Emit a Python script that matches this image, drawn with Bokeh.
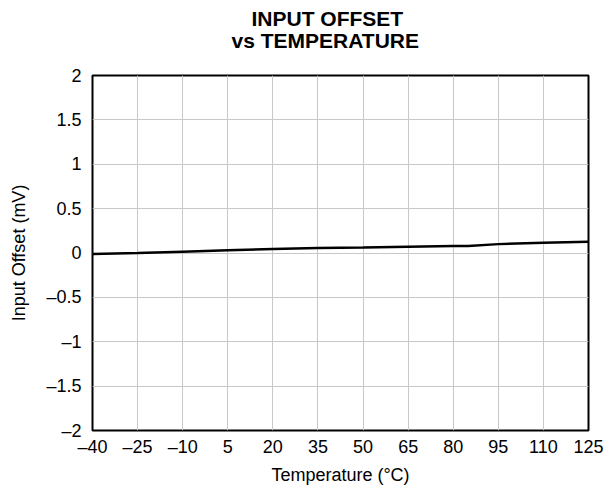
from bokeh.plotting import figure
from bokeh.models import FixedTicker, Title, Range1d
from bokeh.embed import file_html
from bokeh.resources import INLINE

temperature = [-40, -25, -10, 5, 20, 35, 50, 65, 80, 85, 95, 110, 125]
offset_mv = [-0.01, 0.0, 0.015, 0.03, 0.045, 0.055, 0.062, 0.07, 0.078, 0.08, 0.1, 0.115, 0.128]
x_ticks = [-40, -25, -10, 5, 20, 35, 50, 65, 80, 95, 110, 125]
y_ticks = [-2, -1.5, -1, -0.5, 0, 0.5, 1, 1.5, 2]

FONT = "Liberation Sans"

def fmt(v):
    s = ("%g" % v)
    return s.replace("-", "\u2013")

p = figure(width=605, height=487, output_backend="svg", toolbar_location=None,
           x_range=Range1d(-40, 125), y_range=Range1d(-2, 2),
           min_border_left=92, min_border_right=17, min_border_top=75, min_border_bottom=54)

p.title = None
t2 = Title(text="vs TEMPERATURE", align="left", text_font=FONT, text_font_size="21px",
           text_font_style="bold", text_color="black", offset=139, standoff=48)
t1 = Title(text="INPUT OFFSET", align="left", text_font=FONT, text_font_size="21px",
           text_font_style="bold", text_color="black", offset=159, standoff=-54)
p.add_layout(t2, "above")
p.add_layout(t1, "above")

p.line(temperature, offset_mv, line_color="black", line_width=2.5)

p.xaxis.ticker = FixedTicker(ticks=x_ticks)
p.yaxis.ticker = FixedTicker(ticks=y_ticks)
p.xaxis.major_label_overrides = {v: fmt(v) for v in x_ticks}
p.yaxis.major_label_overrides = {v: fmt(v) for v in y_ticks}

for ax in (p.xaxis, p.yaxis):
    ax.axis_line_color = None
    ax.major_tick_line_color = None
    ax.minor_tick_line_color = None
    ax.major_tick_out = 0
    ax.major_tick_in = 0
    ax.major_label_text_font = FONT
    ax.major_label_text_font_size = "18px"
    ax.major_label_text_color = "black"
    ax.axis_label_text_font = FONT
    ax.axis_label_text_font_size = "18px"
    ax.axis_label_text_font_style = "normal"
    ax.axis_label_text_color = "black"

p.xaxis.axis_label = "Temperature (°C)"
p.yaxis.axis_label = "Input Offset (mV)"
p.xaxis.major_label_standoff = 6
p.yaxis.major_label_standoff = 11
p.xaxis.axis_label_standoff = 5
p.yaxis.axis_label_standoff = 14

p.grid.grid_line_color = "#c8c8c8"
p.grid.grid_line_width = 1
p.outline_line_color = "black"
p.outline_line_width = 2
p.background_fill_color = "white"
p.border_fill_color = "white"

open("out.html", "w").write(file_html(p, INLINE))
